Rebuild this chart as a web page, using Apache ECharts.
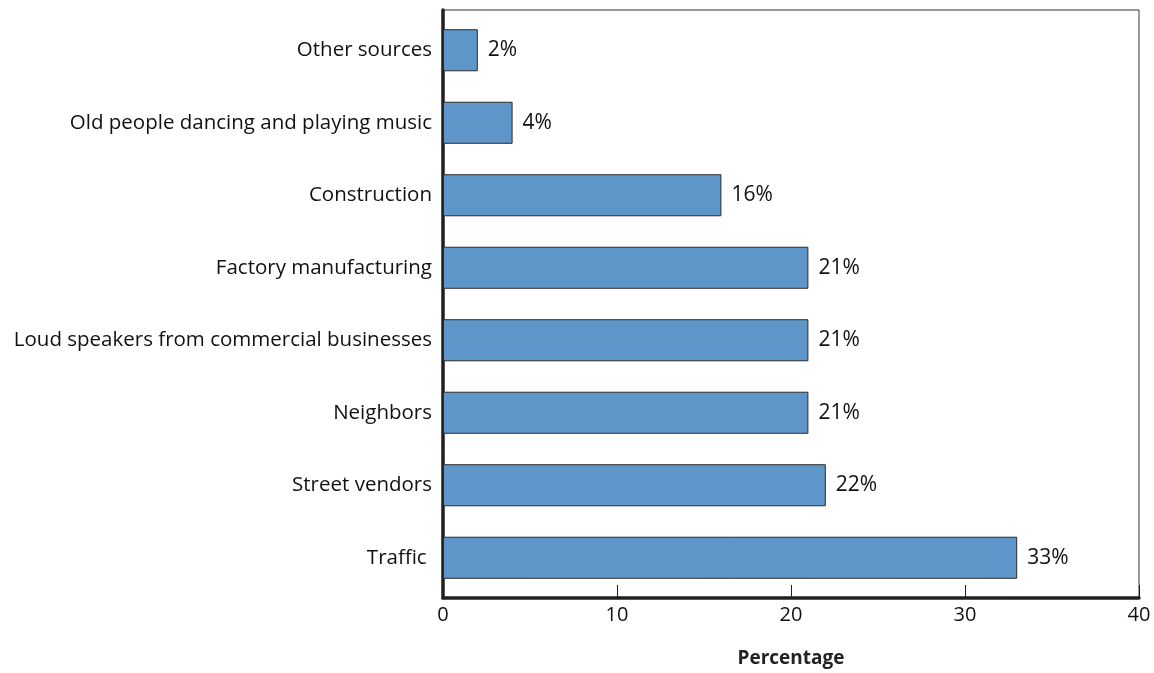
<!DOCTYPE html>
<html>
<head>
<meta charset="utf-8">
<style>
  html, body { margin: 0; padding: 0; background: #fff; }
  #chart { width: 1154px; height: 673px; }
</style>
<script src="https://cdn.jsdelivr.net/npm/echarts@6/dist/echarts.min.js"></script>
</head>
<body>
<div id="chart"></div>
<script>
// Sources of noise, share of respondents (%)
const categories = [
  'Other sources',
  'Old people dancing and playing music',
  'Construction',
  'Factory manufacturing',
  'Loud speakers from commercial businesses',
  'Neighbors',
  'Street vendors',
  'Traffic '
];
const percentages = [2, 4, 16, 21, 21, 21, 22, 33];
const xTicks = [0, 10, 20, 30, 40];

const FONT = 'Open Sans';
const chart = echarts.init(document.getElementById('chart'), null, { renderer: 'canvas' });

chart.setOption({
  backgroundColor: '#ffffff',
  animation: false,
  textStyle: { fontFamily: FONT },
  grid: [
    // frame: holds the visible axes and the thin top/right border
    { left: 443, right: 15, top: 10, bottom: 72, show: true, borderColor: '#333', borderWidth: 1, backgroundColor: 'transparent' },
    // plotting band for the bars
    { left: 443, right: 15, top: 14, bottom: 79 }
  ],
  xAxis: [
    {
      gridIndex: 0, type: 'value', min: xTicks[0], max: xTicks[xTicks.length - 1], interval: 10,
      axisLine: { show: true, lineStyle: { color: '#231f20', width: 3.5 } },
      axisTick: { show: true, inside: true, length: 13, lineStyle: { color: '#231f20', width: 1 } },
      axisLabel: { color: '#111', fontSize: 20, margin: 7, fontFamily: FONT },
      splitLine: { show: false },
      name: 'Percentage', nameLocation: 'middle', nameGap: 51,
      nameTextStyle: { color: '#222', fontSize: 19, fontWeight: 'bold', fontFamily: FONT }
    },
    {
      gridIndex: 1, type: 'value', min: xTicks[0], max: xTicks[xTicks.length - 1],
      show: false
    }
  ],
  yAxis: [
    {
      gridIndex: 0, type: 'value', min: 0, max: 1,
      axisLine: { show: true, lineStyle: { color: '#231f20', width: 3.5 } },
      axisTick: { show: false }, axisLabel: { show: false }, splitLine: { show: false }
    },
    {
      gridIndex: 1, type: 'category', data: categories, inverse: true,
      axisLine: { show: false }, axisTick: { show: false }, splitLine: { show: false },
      axisLabel: { color: '#111', fontSize: 20.5, margin: 11, fontFamily: FONT }
    }
  ],
  series: [{
    type: 'bar',
    xAxisIndex: 1, yAxisIndex: 1,
    data: percentages,
    barWidth: '58%',
    itemStyle: { color: '#5f96c9', borderColor: '#2b2b2b', borderWidth: 1 },
    label: {
      show: true, position: 'right', distance: 10,
      formatter: p => p.value + '%',
      color: '#111', fontSize: 21, fontFamily: FONT
    }
  }]
});
</script>
</body>
</html>
